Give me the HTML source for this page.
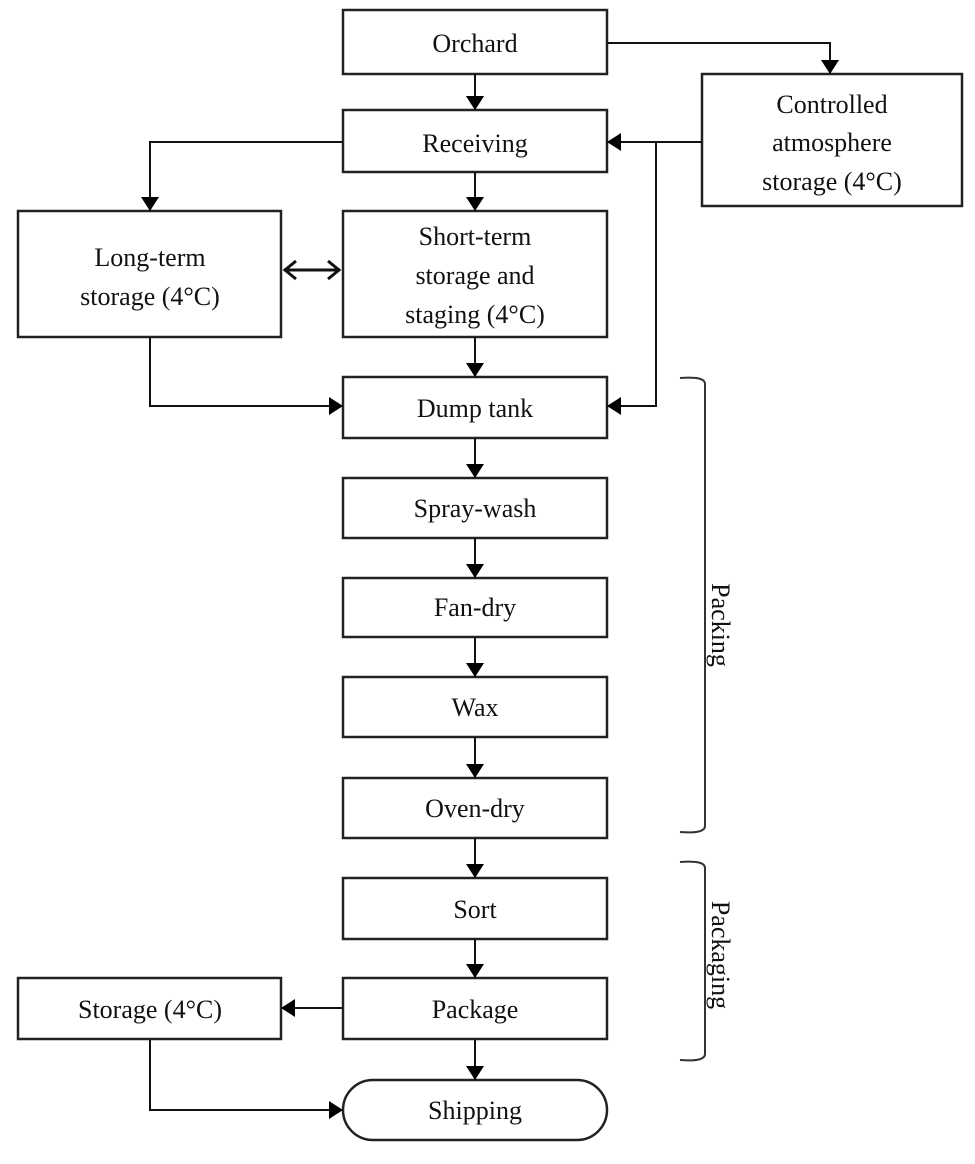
<!DOCTYPE html>
<html><head><style>
body{margin:0;background:#fff}
svg text{font-family:"Liberation Serif",serif;font-size:26px;fill:#111}
</style></head><body>
<svg width="975" height="1159" viewBox="0 0 975 1159" xmlns="http://www.w3.org/2000/svg">
<defs>
<marker id="a" markerWidth="10" markerHeight="10" refX="9" refY="5" orient="auto" markerUnits="userSpaceOnUse" viewBox="0 0 10 10">
<path d="M0,0 L10,5 L0,10 z" fill="#000"/></marker>
</defs>
<g fill="#fff" stroke="#222" stroke-width="2.5">
<rect x="343" y="10" width="264" height="64"/>
<rect x="343" y="110" width="264" height="62"/>
<rect x="702" y="74" width="260" height="132"/>
<rect x="18" y="211" width="263" height="126"/>
<rect x="343" y="211" width="264" height="126"/>
<rect x="343" y="377" width="264" height="61"/>
<rect x="343" y="478" width="264" height="60"/>
<rect x="343" y="578" width="264" height="59"/>
<rect x="343" y="677" width="264" height="60"/>
<rect x="343" y="778" width="264" height="60"/>
<rect x="343" y="878" width="264" height="61"/>
<rect x="343" y="978" width="264" height="61"/>
<rect x="18" y="978" width="263" height="61"/>
<rect x="343" y="1080" width="264" height="60" rx="30"/>
</g>
<g fill="none" stroke="#111" stroke-width="2" marker-end="url(#a)">
<path d="M475 74 V110" style="marker-end:url(#b)"/>
</g>
<defs>
<marker id="b" markerWidth="20" markerHeight="20" refX="0" refY="0" orient="auto" markerUnits="userSpaceOnUse" viewBox="-14 -10 16 20"><path d="M-14,-9 L0,0 L-14,9 z" fill="#000"/></marker>
</defs>
<g fill="none" stroke="#111" stroke-width="2" marker-end="url(#b)">
<path d="M475 74 V110"/>
<path d="M607 43 H830 V74"/>
<path d="M702 142 H607"/>
<path d="M656 142 V406 H607"/>
<path d="M343 142 H150 V211"/>
<path d="M475 172 V211"/>
<path d="M150 337 V406 H343"/>
<path d="M475 337 V377"/>
<path d="M475 438 V478"/>
<path d="M475 538 V578"/>
<path d="M475 637 V677"/>
<path d="M475 737 V778"/>
<path d="M475 838 V878"/>
<path d="M475 939 V978"/>
<path d="M475 1039 V1080"/>
<path d="M343 1008 H281"/>
<path d="M150 1039 V1110 H343"/>
</g>
<g fill="none" stroke="#111" stroke-width="3">
<path d="M284 270 H340"/>
<path d="M296 261 L285 270 L296 279"/>
<path d="M328 261 L339 270 L328 279"/>
</g>
<g fill="none" stroke="#333" stroke-width="2">
<path d="M680 378 Q705 376 705 384 V826 Q705 834 680 832"/>
<path d="M680 862 Q705 860 705 868 V1054 Q705 1062 680 1060"/>
</g>
<g text-anchor="middle">
<text x="475" y="52">Orchard</text>
<text x="475" y="152">Receiving</text>
<text x="832" y="113">Controlled</text>
<text x="832" y="151">atmosphere</text>
<text x="832" y="190">storage (4°C)</text>
<text x="150" y="266">Long-term</text>
<text x="150" y="305">storage (4°C)</text>
<text x="475" y="245">Short-term</text>
<text x="475" y="284">storage and</text>
<text x="475" y="323">staging (4°C)</text>
<text x="475" y="417">Dump tank</text>
<text x="475" y="517">Spray-wash</text>
<text x="475" y="616">Fan-dry</text>
<text x="475" y="716">Wax</text>
<text x="475" y="817">Oven-dry</text>
<text x="475" y="918">Sort</text>
<text x="475" y="1018">Package</text>
<text x="150" y="1018">Storage (4°C)</text>
<text x="475" y="1119">Shipping</text>
<text transform="translate(712,625) rotate(90)">Packing</text>
<text transform="translate(712,955) rotate(90)">Packaging</text>
</g>
</svg>
</body></html>
